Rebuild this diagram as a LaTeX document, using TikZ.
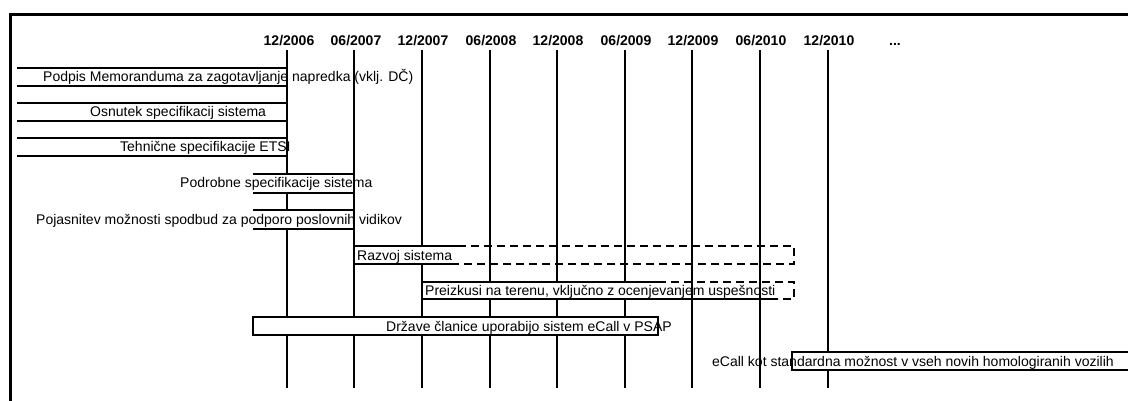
\documentclass[tikz,border=0pt]{standalone}
\usepackage{fontspec}
\setmainfont{Liberation Sans}
\begin{document}
\begin{tikzpicture}[x=1pt,y=-1pt,
  vline/.style={line width=2pt},
  frameline/.style={line width=3pt},
  edge/.style={line width=2pt},
  dedge/.style={line width=2pt,dash pattern=on 8pt off 5pt},
  boxfill/.style={fill=white},
  txt/.style={inner sep=0pt,anchor=base west,font=\fontsize{14}{16}\selectfont},
  lbl/.style={inner sep=0pt,anchor=base,font=\fontsize{14}{16}\selectfont\bfseries}]
\useasboundingbox (0,0) rectangle (1128,401);
\clip (0,0) rectangle (1128,401);
% frame
\draw[frameline] (10,410) -- (10,15) -- (1140,15);
% date labels
\node[lbl] (l1) at (289,46) {12/2006};
\node[lbl] (l2) at (356,46) {06/2007};
\node[lbl] (l3) at (423,46) {12/2007};
\node[lbl] (l4) at (491,46) {06/2008};
\node[lbl] (l5) at (558,46) {12/2008};
\node[lbl] (l6) at (626,46) {06/2009};
\node[lbl] (l7) at (693,46) {12/2009};
\node[lbl] (l8) at (761,46) {06/2010};
\node[lbl] (l9) at (829,46) {12/2010};
\node[lbl] (l10) at (895,46) {...};
% vertical lines
\foreach \x in {287,354,422,490,557,625,692,760,828}
  \draw[vline] (\x,50) -- (\x,388);
% fills
\fill[boxfill] (17,68) rectangle (287,86);
\fill[boxfill] (17,103) rectangle (287,121);
\fill[boxfill] (17,138) rectangle (287,156);
\fill[boxfill] (253,174) rectangle (354,193);
\fill[boxfill] (253,210) rectangle (354,229);
\fill[boxfill] (354,246) rectangle (458,264);
\fill[boxfill] (422,282) rectangle (658,299);
\fill[boxfill] (253,317) rectangle (658,335);
\fill[boxfill] (792,352) rectangle (1140,370);
% texts
\node[txt] (r1) at (43,82) {Podpis Memoranduma za zagotavljanje napredka (vklj. DČ)};
\node[txt] (r2) at (90,117) {Osnutek specifikacij sistema};
\node[txt] (r3) at (120,152) {Tehnične specifikacije ETSI};
\node[txt] (r4) at (180,188) {Podrobne specifikacije sistema};
\node[txt] (r5) at (36,224) {Pojasnitev možnosti spodbud za podporo poslovnih vidikov};
\node[txt] (r6) at (357,260) {Razvoj sistema};
\node[txt] (r7) at (425,295) {Preizkusi na terenu, vključno z ocenjevanjem uspešnosti};
\node[txt] (r8) at (386,331) {Države članice uporabijo sistem eCall v PSAP};
\node[txt] (r9) at (712,366) {eCall kot standardna možnost v vseh novih homologiranih vozilih};
% box edges
\draw[edge] (17,68) -- (287,68) -- (287,86) -- (17,86);
\draw[edge] (17,103) -- (287,103) -- (287,121) -- (17,121);
\draw[edge] (17,138) -- (287,138) -- (287,156) -- (17,156);
\draw[edge] (253,174) -- (354,174) -- (354,193) -- (253,193);
\draw[edge] (253,210) -- (354,210) -- (354,229) -- (253,229);
\draw[edge] (458,246) -- (354,246) -- (354,264) -- (458,264);
\draw[dedge] (458,246) -- (794,246) -- (794,264) -- (458,264);
\draw[edge] (658,282) -- (422,282) -- (422,299) -- (778,299);
\draw[dedge] (658,282) -- (794,282) -- (794,299) -- (778,299);
\draw[edge] (253,317) rectangle (658,335);
\draw[edge] (1140,352) -- (792,352) -- (792,370) -- (1140,370);
\end{tikzpicture}
\end{document}
